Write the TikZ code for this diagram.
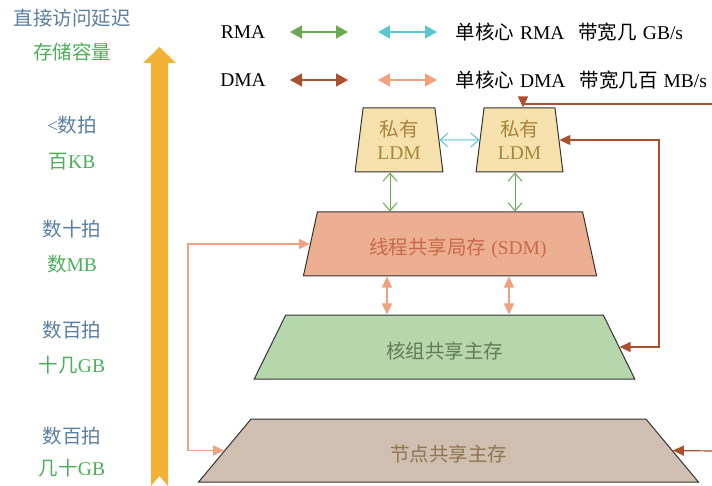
\documentclass[tikz,border=0pt]{standalone}
\usepackage{fontspec}
\setmainfont{Liberation Serif}
\newfontfamily\cjk{Noto Sans CJK SC}
\usetikzlibrary{arrows.meta,shapes.geometric,positioning,calc}

\definecolor{latblue}{HTML}{5B7FA0}
\definecolor{capgreen}{HTML}{4CAE5A}
\definecolor{rmagreen}{HTML}{6AAB4F}
\definecolor{rmacyan}{HTML}{5BC5D3}
\definecolor{dmabrown}{HTML}{A9502E}
\definecolor{dmasalmon}{HTML}{EFA27F}
\definecolor{ldmfill}{HTML}{F6E1AC}
\definecolor{ldmtext}{HTML}{A8843C}
\definecolor{sdmfill}{HTML}{EDAF92}
\definecolor{sdmtext}{HTML}{C86A45}
\definecolor{cgfill}{HTML}{B6D6AC}
\definecolor{cgtext}{HTML}{5E7D55}
\definecolor{ndfill}{HTML}{D0BEB0}
\definecolor{ndtext}{HTML}{8E7650}
\definecolor{barorange}{HTML}{F3B236}

\begin{document}
\begin{tikzpicture}[x=1pt, y=-1pt, font=\fontsize{19.5}{23}\selectfont]
            % Estilos
            \tikzstyle{mem}=[trapezium, trapezium stretches, draw=black!80, line width=1pt, inner sep=1pt, align=center]
            \tikzstyle{latency}=[text=latblue]
            \tikzstyle{capacity}=[text=capgreen]
            \tikzstyle{legtip}=[{Triangle[width=13pt,length=12pt]}-{Triangle[width=13pt,length=12pt]}, line width=1.4pt]
            \tikzstyle{tri}=[{Triangle[width=10pt,length=11pt]}-{Triangle[width=10pt,length=11pt]}, line width=1.2pt]
            \tikzstyle{barb}=[{Straight Barb[width=14pt,length=8pt]}-{Straight Barb[width=14pt,length=8pt]}, line width=1pt]
            \tikzstyle{dmaline}=[dmabrown, line width=1.2pt]

            \useasboundingbox (0,0) rectangle (712,486);

            % Seta de hierarquia
            \fill[barorange] (151,486) -- (151,63) -- (143,63) -- (159.5,47) -- (176,63) -- (168,63) -- (168,486) -- (159.5,476) -- cycle;

            % Textos da esquerda
            \node[latency] (lathead) at (72,18) {\cjk 直接访问延迟};
            \node[capacity] (caphead) at (72,52) {\cjk 存储容量};
            \node[latency] (lat1) at (72,125) {<{\cjk 数拍}};
            \node[capacity] (cap1) at (72,162) {{\cjk 百}KB};
            \node[latency] (lat2) at (72,229) {\cjk 数十拍};
            \node[capacity] (cap2) at (72,264) {{\cjk 数}MB};
            \node[latency] (lat3) at (72,330) {\cjk 数百拍};
            \node[capacity] (cap3) at (72,365) {{\cjk 十几}GB};
            \node[latency] (lat4) at (72,436) {\cjk 数百拍};
            \node[capacity] (cap4) at (72,468) {{\cjk 几十}GB};

            % Legenda
            \node (rma) at (243,32) {RMA};
            \node (dma) at (243,80) {DMA};
            \node[anchor=west] (rmatxt) at (452,32) {{\cjk 单核心}\hspace{6pt}RMA\hspace{14pt}{\cjk 带宽几}\hspace{6pt}GB/s};
            \node[anchor=west] (dmatxt) at (452,80) {{\cjk 单核心}\hspace{6pt}DMA\hspace{14pt}{\cjk 带宽几百}\hspace{6pt}MB/s};
            \coordinate (ga) at (290,32);  \coordinate (gb) at (348,32);
            \coordinate (ca) at (378,32);  \coordinate (cb) at (437,32);
            \coordinate (ba) at (290,80);  \coordinate (bb) at (348,80);
            \coordinate (sa) at (378,80);  \coordinate (sb) at (437,80);
            \draw[legtip, rmagreen] (ga) -- (gb);
            \draw[legtip, rmacyan] (ca) -- (cb);
            \draw[legtip, dmabrown] (ba) -- (bb);
            \draw[legtip, dmasalmon] (sa) -- (sb);

            % Niveis de memoria
            \node[mem, fill=ldmfill, text=ldmtext, minimum width=88pt, minimum height=64pt,
                  trapezium left angle=83, trapezium right angle=83] (ldm1) at (399,140) {{\cjk 私有}\\LDM};
            \node[mem, fill=ldmfill, text=ldmtext, minimum width=87pt, minimum height=64pt,
                  trapezium left angle=83, trapezium right angle=83] (ldm2) at (519.5,140) {{\cjk 私有}\\LDM};
            \node[mem, fill=sdmfill, text=sdmtext, minimum width=294pt, minimum height=64pt,
                  trapezium left angle=65.6, trapezium right angle=65.6] (sdm) at (450,244)
                  {\raisebox{-4pt}[\height][\depth]{\hspace*{16pt}{\cjk 线程共享局存} (SDM)}};
            \node[mem, fill=cgfill, text=cgtext, minimum width=381pt, minimum height=64pt,
                  trapezium left angle=59.6, trapezium right angle=59.6] (core) at (444.5,347)
                  {\raisebox{-4pt}[\height][\depth]{\cjk 核组共享主存}};
            \node[mem, fill=ndfill, text=ndtext, minimum width=501pt, minimum height=63pt,
                  trapezium left angle=51.8, trapezium right angle=51.8] (nodemem) at (448.5,450.5)
                  {\raisebox{-4pt}[\height][\depth]{\cjk 节点共享主存}};

            % Conexoes
            \coordinate (lbus) at (188,0);
            \coordinate (rbus) at (659,0);
            \coordinate (rtop) at (712,104);
            \coordinate (rbot) at (712,451);

            \draw[barb, rmacyan] (ldm1.east) -- (ldm2.west);
            \draw[barb, rmagreen] ([xshift=-9pt]ldm1.south) -- ([xshift=-9pt]ldm1.south |- sdm.north);
            \draw[barb, rmagreen] ([xshift=-4.5pt]ldm2.south) -- ([xshift=-4.5pt]ldm2.south |- sdm.north);
            \draw[tri, dmasalmon] ([xshift=-63pt]sdm.south) -- ([xshift=-63pt]sdm.south |- core.north);
            \draw[tri, dmasalmon] ([xshift=59pt]sdm.south) -- ([xshift=59pt]sdm.south |- core.north);
            \draw[tri, dmasalmon] (sdm.west) -- (sdm.west -| lbus) |- (nodemem.west);
            \draw[dmaline, -{Triangle[width=10pt,length=11pt]}] (rtop) -| ([xshift=3.5pt]ldm2.north);
            \draw[dmaline, tri] (ldm2.east) -- (ldm2.east -| rbus) |- (core.east);
            \draw[dmaline, -{Triangle[width=10pt,length=11pt]}] (rbot) -- (nodemem.east);
\end{tikzpicture}
\end{document}
